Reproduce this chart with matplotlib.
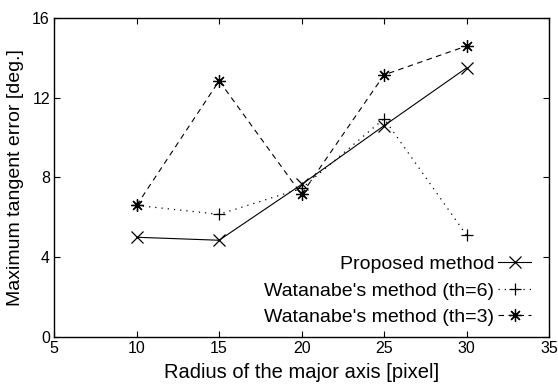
import matplotlib
matplotlib.use("Agg")
import matplotlib.pyplot as plt

plt.rcParams['font.family'] = ['Liberation Sans', 'DejaVu Sans']

radius = [10, 15, 20, 25, 30]
proposed = [5.0, 4.85, 7.65, 10.6, 13.5]
watanabe_th6 = [6.6, 6.15, 7.45, 10.95, 5.1]
watanabe_th3 = [6.6, 12.85, 7.15, 13.15, 14.6]

labels = ["Proposed method", "Watanabe's method (th=6)", "Watanabe's method (th=3)"]

fig = plt.figure(figsize=(5.58, 3.85), dpi=100)
ax = fig.add_axes([0.097, 0.125, 0.887, 0.828])

ax.plot(radius, proposed, color='black', linestyle='-', linewidth=0.8,
        marker='x', markersize=8, markeredgewidth=0.9, label=labels[0])
ax.plot(radius, watanabe_th6, color='black', linestyle=(0, (1, 4)), linewidth=0.9,
        marker='+', markersize=9, markeredgewidth=0.9, label=labels[1])
ax.plot(radius, watanabe_th3, color='black', linestyle=(0, (5, 4)), linewidth=0.8,
        marker=(8, 2, 0), markersize=9, markeredgewidth=0.9, label=labels[2])

ax.set_xlim(5, 35)
ax.set_ylim(0, 16)
ax.set_xticks([5, 10, 15, 20, 25, 30, 35])
ax.set_yticks([0, 4, 8, 12, 16])
ax.tick_params(direction='in', top=True, right=True, labelsize=11.5, length=4, width=0.8, pad=3)
for s in ax.spines.values():
    s.set_linewidth(1.0)

ax.set_xlabel("Radius of the major axis [pixel]", fontsize=14.5, labelpad=5)
ax.set_ylabel("Maximum tangent error [deg.]", fontsize=14, labelpad=6)

ax.legend(loc='lower right', frameon=False, markerfirst=False, fontsize=14,
          handlelength=1.7, handletextpad=0.2, labelspacing=0.45,
          borderaxespad=0.0, bbox_to_anchor=(0.98, 0.01))

fig.savefig("out.png", dpi=100)
